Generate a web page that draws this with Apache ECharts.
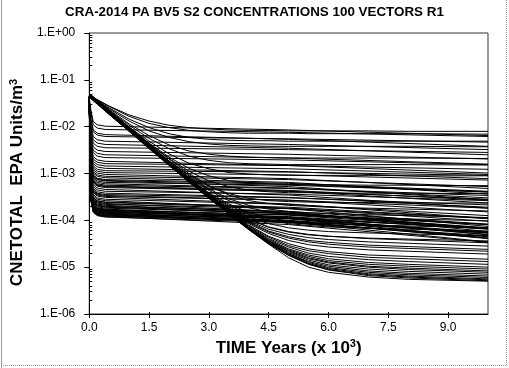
<!DOCTYPE html>
<html><head><meta charset="utf-8">
<script src="https://cdn.jsdelivr.net/npm/echarts@6/dist/echarts.min.js"></script>
<style>html,body{margin:0;padding:0;background:#fff}#c{width:509px;height:368px}</style>
</head><body><div id="c"></div>
<script>
const titleText = 'CRA-2014 PA BV5 S2 CONCENTRATIONS 100 VECTORS R1';
const xTickValues = [0, 1.5, 3, 4.5, 6, 7.5, 9];
const xTickLabels = ['0.0', '1.5', '3.0', '4.5', '6.0', '7.5', '9.0'];
const yTickValues = [1e-6, 1e-5, 1e-4, 1e-3, 1e-2, 1e-1, 1];
const yTickLabels = ['1.E-06', '1.E-05', '1.E-04', '1.E-03', '1.E-02', '1.E-01', '1.E+00'];

// time (x 10^3 years) at which each curve was read
const timesFast = [0, 0.04, 0.1, 0.2, 0.4, 5, 10];
const timesSlow = [0, 0.5, 1, 1.5, 2, 2.5, 3, 3.5, 4, 4.5, 5, 5.5, 6, 7, 8, 10];

// readings, log10 of concentration: vectors that drop at once to a plateau
const fastDropCurves = [
[-1.38,-1.64,-1.89,-1.96,-1.99,-2.07,-2.19],
[-1.45,-1.71,-1.96,-2.03,-2.06,-2.12,-2.21],
[-1.52,-1.82,-2.07,-2.14,-2.17,-2.27,-2.42],
[-1.42,-1.86,-2.11,-2.18,-2.21,-2.26,-2.33],
[-1.60,-1.96,-2.21,-2.28,-2.31,-2.38,-2.49],
[-1.48,-2.03,-2.28,-2.35,-2.38,-2.46,-2.60],
[-1.35,-2.10,-2.35,-2.42,-2.45,-2.49,-2.55],
[-1.55,-2.18,-2.43,-2.50,-2.53,-2.59,-2.69],
[-1.38,-2.25,-2.50,-2.57,-2.60,-2.67,-2.80],
[-1.45,-2.31,-2.56,-2.63,-2.66,-2.71,-2.81],
[-1.52,-2.39,-2.64,-2.71,-2.74,-2.83,-2.99],
[-1.42,-2.44,-2.69,-2.76,-2.79,-2.83,-2.91],
[-1.60,-2.49,-2.74,-2.81,-2.84,-2.90,-3.02],
[-1.48,-2.54,-2.79,-2.86,-2.89,-2.96,-3.11],
[-1.35,-2.59,-2.84,-2.91,-2.94,-2.97,-3.04],
[-1.55,-2.63,-2.88,-2.95,-2.98,-3.03,-3.14],
[-1.38,-2.67,-2.92,-2.99,-3.02,-3.11,-3.32],
[-1.45,-2.71,-2.96,-3.03,-3.06,-3.13,-3.28],
[-1.52,-2.74,-2.99,-3.06,-3.09,-3.19,-3.44],
[-1.42,-2.78,-3.03,-3.10,-3.13,-3.21,-3.38],
[-1.60,-2.81,-3.06,-3.13,-3.16,-3.28,-3.56],
[-1.48,-2.84,-3.09,-3.16,-3.19,-3.25,-3.39],
[-1.35,-2.87,-3.12,-3.19,-3.22,-3.31,-3.52],
[-1.55,-2.90,-3.15,-3.22,-3.25,-3.32,-3.47],
[-1.38,-2.93,-3.18,-3.25,-3.28,-3.38,-3.63],
[-1.45,-2.95,-3.20,-3.27,-3.30,-3.38,-3.55],
[-1.52,-2.99,-3.24,-3.31,-3.34,-3.46,-3.74],
[-1.42,-3.03,-3.28,-3.35,-3.38,-3.44,-3.58],
[-1.60,-3.07,-3.32,-3.39,-3.42,-3.51,-3.72],
[-1.48,-3.10,-3.35,-3.42,-3.45,-3.52,-3.67],
[-1.35,-3.12,-3.37,-3.44,-3.47,-3.57,-3.82],
[-1.55,-3.14,-3.39,-3.46,-3.49,-3.57,-3.74],
[-1.38,-3.16,-3.41,-3.48,-3.51,-3.65,-3.96],
[-1.45,-3.20,-3.45,-3.52,-3.55,-3.66,-3.90],
[-1.52,-3.23,-3.48,-3.55,-3.58,-3.75,-4.13],
[-1.42,-3.27,-3.52,-3.59,-3.62,-3.74,-4.02],
[-1.60,-3.29,-3.54,-3.61,-3.64,-3.82,-4.24],
[-1.48,-3.31,-3.56,-3.63,-3.66,-3.75,-3.96],
[-1.35,-3.33,-3.58,-3.65,-3.68,-3.83,-4.18],
[-1.55,-3.35,-3.60,-3.67,-3.70,-3.81,-4.08],
[-1.38,-3.37,-3.62,-3.69,-3.72,-3.86,-4.17],
[-1.45,-3.39,-3.64,-3.71,-3.74,-3.85,-4.09],
[-1.52,-3.41,-3.66,-3.73,-3.76,-3.93,-4.31],
[-1.42,-3.42,-3.67,-3.74,-3.77,-3.89,-4.17],
[-1.60,-3.43,-3.68,-3.75,-3.78,-3.96,-4.38],
[-1.48,-3.44,-3.69,-3.76,-3.79,-3.88,-4.09],
[-1.35,-3.45,-3.70,-3.77,-3.80,-3.95,-4.30],
[-1.55,-3.46,-3.71,-3.78,-3.81,-3.92,-4.19],
[-1.38,-3.47,-3.72,-3.79,-3.82,-3.96,-4.27],
[-1.45,-3.48,-3.73,-3.80,-3.83,-3.94,-4.18],
[-1.52,-3.49,-3.74,-3.81,-3.84,-4.01,-4.39],
[-1.42,-3.50,-3.75,-3.82,-3.85,-3.97,-4.25],
[-1.60,-3.51,-3.76,-3.83,-3.86,-4.04,-4.46],
[-1.48,-3.52,-3.77,-3.84,-3.87,-3.96,-4.17],
[-1.35,-3.53,-3.78,-3.85,-3.88,-4.03,-4.38],
[-1.55,-3.54,-3.79,-3.86,-3.89,-4.00,-4.27],
[-1.38,-3.55,-3.80,-3.87,-3.90,-4.04,-4.35],
[-1.45,-3.56,-3.81,-3.88,-3.91,-4.02,-4.26],
[-1.52,-3.57,-3.82,-3.89,-3.92,-4.09,-4.47],
[-1.42,-3.58,-3.83,-3.90,-3.93,-4.05,-4.33],
[-1.60,-3.36,-3.61,-3.68,-3.71,-3.85,-4.16],
[-1.48,-3.26,-3.51,-3.58,-3.61,-3.72,-3.96],
[-1.35,-2.92,-3.17,-3.24,-3.27,-3.36,-3.57],
[-1.55,-2.80,-3.05,-3.12,-3.15,-3.23,-3.40]
];

// readings, log10 of concentration: vectors that decline steadily and then level off
const slowDeclineCurves = [
[-1.33,-1.56,-1.75,-1.88,-1.97,-2.02,-2.05,-2.07,-2.08,-2.08,-2.09,-2.09,-2.09,-2.09,-2.10,-2.10],
[-1.33,-1.57,-1.78,-1.93,-2.02,-2.08,-2.11,-2.13,-2.14,-2.14,-2.14,-2.15,-2.15,-2.15,-2.15,-2.16],
[-1.33,-1.60,-1.84,-2.02,-2.15,-2.23,-2.27,-2.29,-2.30,-2.30,-2.31,-2.31,-2.31,-2.31,-2.31,-2.31],
[-1.33,-1.62,-1.88,-2.09,-2.23,-2.32,-2.37,-2.40,-2.41,-2.42,-2.42,-2.42,-2.42,-2.42,-2.42,-2.43],
[-1.33,-1.64,-1.94,-2.19,-2.39,-2.52,-2.59,-2.63,-2.65,-2.66,-2.67,-2.67,-2.67,-2.67,-2.67,-2.68],
[-1.33,-1.66,-1.97,-2.25,-2.47,-2.63,-2.72,-2.77,-2.79,-2.80,-2.81,-2.81,-2.81,-2.81,-2.81,-2.82],
[-1.33,-1.67,-2.01,-2.31,-2.58,-2.78,-2.90,-2.98,-3.01,-3.03,-3.04,-3.04,-3.04,-3.04,-3.05,-3.05],
[-1.33,-1.68,-2.03,-2.35,-2.65,-2.89,-3.05,-3.15,-3.20,-3.22,-3.24,-3.24,-3.24,-3.25,-3.25,-3.26],
[-1.33,-1.68,-2.03,-2.37,-2.68,-2.95,-3.16,-3.28,-3.36,-3.39,-3.41,-3.41,-3.42,-3.42,-3.42,-3.43],
[-1.33,-1.69,-2.05,-2.40,-2.73,-3.03,-3.27,-3.43,-3.53,-3.58,-3.60,-3.61,-3.62,-3.62,-3.63,-3.63],
[-1.29,-1.65,-2.01,-2.36,-2.69,-3.00,-3.26,-3.46,-3.58,-3.64,-3.68,-3.70,-3.72,-3.74,-3.76,-3.80],
[-1.31,-1.67,-2.03,-2.39,-2.73,-3.05,-3.33,-3.54,-3.68,-3.76,-3.81,-3.84,-3.85,-3.88,-3.90,-3.94],
[-1.33,-1.69,-2.05,-2.41,-2.75,-3.08,-3.36,-3.58,-3.73,-3.82,-3.88,-3.90,-3.93,-3.95,-3.97,-4.01],
[-1.35,-1.72,-2.08,-2.43,-2.78,-3.12,-3.41,-3.65,-3.83,-3.95,-4.01,-4.05,-4.07,-4.10,-4.12,-4.16],
[-1.37,-1.74,-2.10,-2.46,-2.81,-3.15,-3.44,-3.68,-3.87,-4.00,-4.07,-4.11,-4.14,-4.17,-4.19,-4.23],
[-1.30,-1.67,-2.03,-2.39,-2.74,-3.09,-3.43,-3.71,-3.93,-4.07,-4.16,-4.21,-4.24,-4.27,-4.29,-4.33],
[-1.34,-1.71,-2.07,-2.43,-2.79,-3.13,-3.46,-3.75,-3.98,-4.15,-4.25,-4.31,-4.34,-4.38,-4.40,-4.44],
[-1.32,-1.69,-2.05,-2.41,-2.77,-3.11,-3.45,-3.74,-3.97,-4.14,-4.24,-4.30,-4.34,-4.39,-4.42,-4.48],
[-1.36,-1.73,-2.09,-2.45,-2.81,-3.16,-3.48,-3.76,-4.01,-4.19,-4.30,-4.37,-4.41,-4.46,-4.49,-4.55],
[-1.31,-1.68,-2.04,-2.40,-2.76,-3.11,-3.46,-3.78,-4.03,-4.23,-4.35,-4.43,-4.47,-4.53,-4.56,-4.62],
[-1.33,-1.70,-2.06,-2.42,-2.78,-3.13,-3.47,-3.79,-4.05,-4.25,-4.38,-4.46,-4.51,-4.57,-4.60,-4.66],
[-1.35,-1.72,-2.08,-2.44,-2.81,-3.16,-3.49,-3.80,-4.07,-4.28,-4.43,-4.52,-4.57,-4.63,-4.66,-4.72],
[-1.29,-1.66,-2.02,-2.39,-2.75,-3.10,-3.47,-3.81,-4.10,-4.34,-4.50,-4.61,-4.67,-4.74,-4.77,-4.83],
[-1.37,-1.74,-2.10,-2.47,-2.83,-3.18,-3.51,-3.82,-4.12,-4.36,-4.54,-4.65,-4.71,-4.79,-4.82,-4.88],
[-1.32,-1.69,-2.05,-2.42,-2.78,-3.14,-3.49,-3.83,-4.13,-4.39,-4.57,-4.70,-4.77,-4.84,-4.88,-4.94],
[-1.34,-1.71,-2.07,-2.44,-2.80,-3.16,-3.50,-3.84,-4.15,-4.41,-4.61,-4.74,-4.82,-4.90,-4.94,-5.00],
[-1.30,-1.67,-2.03,-2.40,-2.76,-3.12,-3.49,-3.84,-4.16,-4.43,-4.63,-4.77,-4.86,-4.94,-4.98,-5.04],
[-1.36,-1.73,-2.09,-2.46,-2.82,-3.18,-3.52,-3.84,-4.16,-4.44,-4.65,-4.80,-4.89,-4.98,-5.02,-5.08],
[-1.33,-1.70,-2.06,-2.43,-2.79,-3.15,-3.50,-3.85,-4.17,-4.45,-4.67,-4.82,-4.91,-5.00,-5.05,-5.11],
[-1.31,-1.68,-2.04,-2.41,-2.77,-3.14,-3.49,-3.85,-4.17,-4.46,-4.69,-4.85,-4.95,-5.04,-5.09,-5.15],
[-1.35,-1.72,-2.08,-2.45,-2.81,-3.18,-3.51,-3.85,-4.18,-4.47,-4.71,-4.88,-4.98,-5.08,-5.13,-5.19],
[-1.32,-1.69,-2.05,-2.42,-2.78,-3.15,-3.51,-3.86,-4.19,-4.48,-4.72,-4.90,-5.01,-5.11,-5.16,-5.22],
[-1.34,-1.71,-2.07,-2.44,-2.80,-3.17,-3.52,-3.86,-4.19,-4.49,-4.74,-4.92,-5.03,-5.14,-5.19,-5.25],
[-1.33,-1.70,-2.06,-2.43,-2.79,-3.16,-3.52,-3.86,-4.19,-4.49,-4.74,-4.93,-5.05,-5.16,-5.21,-5.27],
[-1.31,-1.68,-2.04,-2.41,-2.77,-3.14,-3.51,-3.86,-4.19,-4.50,-4.75,-4.94,-5.06,-5.18,-5.23,-5.29],
[-1.35,-1.72,-2.08,-2.45,-2.81,-3.18,-3.53,-3.87,-4.20,-4.51,-4.80,-5.00,-5.11,-5.21,-5.26,-5.30]
];

const FONT = '"Liberation Sans", Arial, sans-serif';

// minor log tick positions (2..9 in every decade)
const yMinorTickValues = [];
for (let d = -6; d < 0; d++) {
  for (let k = 2; k <= 9; k++) yMinorTickValues.push(+(k * Math.pow(10, d)).toPrecision(3));
}

function makeSeries(times, row) {
  return {
    type: 'line',
    data: times.map((t, i) => [t, Math.pow(10, row[i])]),
    symbol: 'none',
    showSymbol: false,
    silent: true,
    animation: false,
    lineStyle: { color: '#000', width: 1 },
    emphasis: { disabled: true }
  };
}
const series = [];
fastDropCurves.forEach(r => series.push(makeSeries(timesFast, r)));
slowDeclineCurves.forEach(r => series.push(makeSeries(timesSlow, r)));

const chart = echarts.init(document.getElementById('c'), null, { renderer: 'canvas' });
chart.setOption({
  animation: false,
  backgroundColor: '#fff',
  textStyle: { fontFamily: FONT },
  title: {
    text: titleText, left: 'center', top: 6, padding: 0,
    textStyle: { fontFamily: FONT, fontSize: 13.4, fontWeight: 'bold', color: '#000' }
  },
  grid: { left: 86, top: 33, width: 402, height: 281, show: true, borderColor: '#333', borderWidth: 1, backgroundColor: 'transparent' },
  xAxis: [{
    type: 'value', min: 0, max: 10, interval: 1.5, position: 'bottom',
    name: 'TIME Years (x 10{sup|3})', nameLocation: 'middle', nameGap: 15,
    nameTextStyle: { fontFamily: FONT, fontSize: 17, fontWeight: 'bold', color: '#000',
      rich: { sup: { fontFamily: FONT, fontSize: 11, fontWeight: 'bold', color: '#000', padding: [0, 0, 8, 0] } } },
    axisLine: { show: true, onZero: false, lineStyle: { color: '#000', width: 1 } },
    axisTick: { show: true, inside: false, length: 4, customValues: xTickValues, lineStyle: { color: '#000' } },
    axisLabel: { show: true, margin: 8, customValues: xTickValues, fontFamily: FONT, fontSize: 12, color: '#000',
      formatter: v => xTickLabels[xTickValues.indexOf(v)] ?? '' },
    splitLine: { show: false }
  }, {
    type: 'value', min: 0, max: 10, position: 'bottom',
    axisLine: { show: false, onZero: false },
    axisTick: { show: true, inside: true, length: 2, customValues: xTickValues, lineStyle: { color: '#000' } },
    axisLabel: { show: false }, splitLine: { show: false }
  }],
  yAxis: [{
    type: 'log', logBase: 10, min: 1e-6, max: 1, position: 'left',
    name: 'CNETOTAL  EPA Units/m{sup|3}', nameLocation: 'middle', nameGap: 57, nameRotate: 90,
    nameTextStyle: { fontFamily: FONT, fontSize: 17, fontWeight: 'bold', color: '#000', padding: [0, 18, 0, 0],
      rich: { sup: { fontFamily: FONT, fontSize: 11, fontWeight: 'bold', color: '#000', padding: [0, 0, 8, 0] } } },
    axisLine: { show: true, onZero: false, lineStyle: { color: '#000', width: 1 } },
    axisTick: { show: true, inside: false, length: 5, customValues: yTickValues, lineStyle: { color: '#000' } },
    axisLabel: { show: true, margin: 14, customValues: yTickValues, fontFamily: FONT, fontSize: 12, color: '#000',
      formatter: v => yTickLabels[Math.round(Math.log10(v)) + 6] },
    splitLine: { show: false }
  }, {
    type: 'log', logBase: 10, min: 1e-6, max: 1, position: 'left',
    axisLine: { show: false, onZero: false },
    axisTick: { show: true, inside: true, length: 3, customValues: yMinorTickValues, lineStyle: { color: '#000' } },
    axisLabel: { show: false }, splitLine: { show: false }
  }],
  graphic: [
    { type: 'line', shape: { x1: 1.5, y1: 0, x2: 1.5, y2: 368 }, style: { stroke: '#9a9a9a', lineWidth: 1 }, silent: true },
    { type: 'line', shape: { x1: 506.5, y1: 0, x2: 506.5, y2: 366 }, style: { stroke: '#9a9a9a', lineWidth: 1, lineDash: [1, 1] }, silent: true },
    { type: 'line', shape: { x1: 1, y1: 365.5, x2: 507, y2: 365.5 }, style: { stroke: '#9a9a9a', lineWidth: 1, lineDash: [1, 1] }, silent: true }
  ],
  series: series
});
</script>
</body></html>
